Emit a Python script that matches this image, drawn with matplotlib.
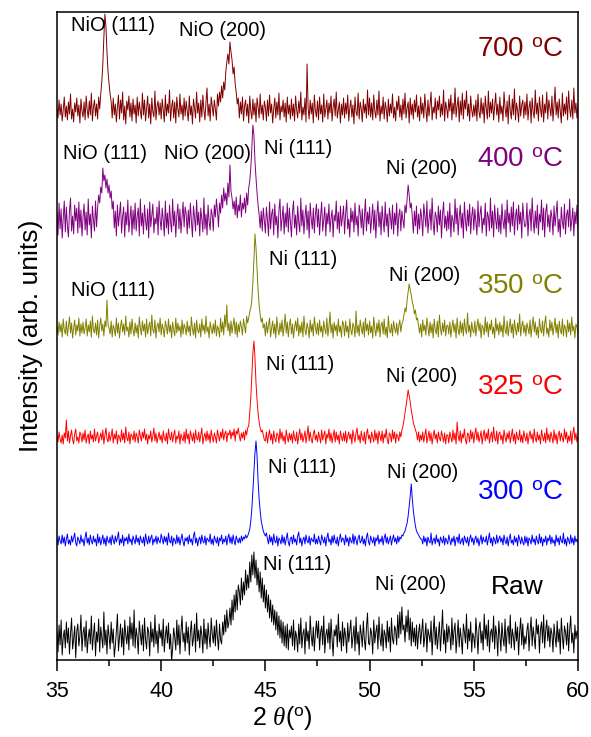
import matplotlib
matplotlib.use("Agg")
import matplotlib.pyplot as plt
import numpy as np

plt.rcParams['font.family'] = ['Liberation Sans', 'DejaVu Sans']
plt.rcParams['mathtext.fontset'] = 'custom'
plt.rcParams['mathtext.rm'] = 'Liberation Sans'
plt.rcParams['mathtext.it'] = 'Liberation Serif:italic'

# 2theta grid: 35.00 .. 60.00 step 0.05 (501 points), 25 values per line
raw = [
    8, -12, 15, -5, 20, -15, 3, 10, -8, 18, -3, 12, -14, 6, 22, -9, 1, 14, -18, 9, 16, -6, 4, 25, -11,
    7, 13, -7, 19, -13, 2, 11, -4, 24, -10, 5, 17, -16, 8, -2, 21, -12, 13, 3, -8, 28, -5, 10, -14, 15,
    4, -9, 18, -3, 11, -17, -6, 9, 26, -11, 2, 16, -7, 12, -15, 20, 5, -4, 14, -10, 23, 1, 17, -6, 30,
    -8, 12, 3, -14, 19, 6, -5, 15, -11, 22, 0, -9, 13, 8, -16, 18, -2, 11, -7, 25, -4, 9, -13, 16, 2,
    10, -6, 21, -12, 4, 14, -3, 17, -9, 6, -22, -8, 12, 3, -10, 20, -5, 15, -14, 9, 24, -2, 7, -11, 18,
    -3, 13, -15, 8, 19, -6, 2, 16, -12, 27, -1, 10, -8, 14, 5, -13, 21, -4, 11, -9, 17, 3, -7, 22, 6,
    -3, 14, -6, 20, 2, -10, 16, 0, -4, 18, 5, 25, 8, 30, 12, 18, 32, 15, 40, 20, 45, 28, 50, 30, 55,
    48, 35, 62, 40, 58, 45, 70, 50, 65, 52, 78, 58, 85, 65, 88, 62, 80, 55, 72, 48, 68, 42, 62, 38, 55,
    32, 50, 28, 45, 22, 40, 18, 35, 15, 30, 10, 28, 5, 24, 2, 20, -3, 18, -6, 14, -8, 16, -10, 10, 2,
    14, -6, 20, -10, 9, 3, -12, 16, -4, 22, -8, 6, 11, -14, 18, -1, 9, -9, 24, 4, -6, 13, -11, 7, 19,
    2, 19, -10, 8, 14, -5, 24, -13, 5, 11, -3, 17, -9, 21, 1, -16, 10, 4, 15, -7, 26, -2, 9, -11, 18,
    -6, 12, 4, -13, 17, -2, 9, 20, -8, 3, 14, -11, 23, -4, 8, -15, 15, 6, -7, 19, 0, -10, 13, 27, -3,
    -5, 12, 6, -14, 20, -3, 8, 15, -9, 23, 2, -6, 16, -11, 10, 5, -8, 19, -2, 13, -12, 22, 1, -4, 14,
    10, -5, 25, 2, 28, 6, 33, 10, 15, -2, 24, 8, 30, 0, 22, -6, 18, -2, 12, -6, 15, -9, 7, 16, -4,
    9, 21, -7, 3, 17, -12, 11, 5, -2, 19, -15, 7, 24, -5, 13, -9, 4, 18, -11, 8, 30, -4, 10, -13, 16,
    -2, 14, 6, -10, 22, -5, 9, 17, -13, 4, 20, -7, 12, 1, -14, 16, 8, -3, 26, -9, 11, -1, 18, -12, 7,
    3, -8, 22, 6, -14, 12, 18, -3, 9, -10, 26, 1, 15, -6, 20, -12, 7, 11, -2, 24, -9, 14, 5, -16, 19,
    5, -11, 17, 2, -6, 21, -13, 9, 14, -4, 25, -8, 11, 3, -10, 18, -1, 13, -15, 8, 22, -5, 16, -9, 4,
    -4, 10, 17, -11, 8, 23, -6, 13, 2, -9, 21, 6, 15, -13, 11, 18, -3, 25, -8, 9, 20, -1, 14, -7, 12,
    6, -12, 16, 3, -7, 19, -2, 11, -14, 22, 4, -9, 14, 8, -5, 17, -11, 10, 24, -3, 7, -13, 15, 1, 9,
    5]

t300 = [
    3, -4, 5, 0, -3, 6, -2, 4, -5, 2, 7, -3, 1, -4, 5, -1, 3, 8, -2, -5, 4, 1, -3, 6, -1,
    2, -5, 4, 9, -2, 3, -4, 6, 0, -3, 5, -1, 2, -5, 7, -2, 4, -4, 1, 6, -3, 3, -5, 5, 0,
    -2, 4, -4, 6, 1, -3, 5, -1, 3, 9, -4, 2, -2, 6, -5, 3, 0, 4, -3, 7, -1, 2, -4, 5, 1,
    -3, 6, -1, 3, -4, 5, 0, -2, 4, -5, 7, 1, -3, 5, -2, 3, 6, -4, 2, -1, 5, -3, 4, 0, -2,
    7, 2, -3, 5, -1, 4, -4, 8, 0, -2, 5, -5, 3, 1, -3, 6, -2, 4, -4, 2, 7, -1, -5, 3, 0,
    4, -3, 6, -1, 2, -4, 5, 9, -2, 3, -5, 1, 4, -3, 6, 0, -2, 5, -4, 3, 1, -1, 7, -3, 2,
    -4, 5, 1, -2, 4, -5, 3, 0, 6, -3, 2, -1, 5, -4, 3, 7, -2, 4, -3, 6, 0, -4, 5, 1, -2,
    3, -2, 5, 0, 4, 2, 6, 3, 5, 8, 12, 20, 32, 50, 70, 88, 100, 85, 60, 42, 30, 20, 15, 10, 7,
    5, 8, 2, -3, 6, -1, 4, -4, 7, 0, -2, 5, -5, 3, 1, -3, 6, -2, 4, -4, 2, 8, -1, -5, 3,
    4, -3, 6, -1, 2, -4, 5, 9, -2, 3, -5, 1, 4, -3, 6, 0, -2, 5, -4, 3, 1, -1, 7, -3, 2,
    -3, 5, 0, -4, 6, 2, -2, 4, -5, 3, 8, -1, 2, -4, 5, -2, 6, 0, -3, 4, -5, 2, 7, -1, 3,
    2, -4, 6, -1, 3, -5, 4, 0, -2, 7, -3, 5, 1, -4, 3, 6, -2, 0, 5, -3, 2, -5, 4, 8, -1,
    -4, 5, 1, -2, 4, -5, 3, 0, 6, -3, 2, -1, 5, -4, 3, 7, -2, 4, -3, 1, 5, -4, 2, 6, -1,
    3, -3, 5, -1, 4, 2, 6, 5, 8, 10, 14, 18, 25, 35, 45, 57, 42, 30, 22, 15, 10, 8, 6, 4, 2,
    2, -3, 5, -1, 3, -5, 4, 0, -2, 8, -4, 1, 3, -3, 6, -1, 2, -5, 4, 1, -2, 5, -4, 3, 0,
    -3, 6, 1, -4, 3, -1, 5, -5, 2, 4, -2, 7, -3, 0, 3, -4, 5, 1, -2, 4, -5, 2, 6, -1, 3,
    -4, 2, 5, -2, 3, -5, 1, 6, -3, 4, 0, -1, 5, -4, 2, 8, -2, 3, -5, 4, 1, -3, 6, -2, 2,
    5, -1, 3, -4, 6, 0, -3, 4, -5, 2, 7, -2, 1, -4, 5, -1, 3, -5, 6, 2, -3, 4, -1, -4, 5,
    -2, 4, -5, 3, 1, -3, 6, -1, 2, -4, 5, 0, -3, 7, -2, 4, -5, 2, -1, 5, -4, 3, 0, 6, -3,
    4, -2, 1, -5, 6, -1, 3, -4, 5, 0, -2, 8, -3, 2, -5, 4, 1, -3, 6, -2, 3, -4, 5, -1, 2,
    -1]

t325 = [
    2, -4, 6, -1, -5, 3, -6, 5, 0, 18, -3, 7, -5, 2, 8, -2, -6, 4, 9, -3, 1, -5, 6, 3, -4,
    5, -2, 8, -5, 1, 4, -6, 7, -1, 3, -4, 9, -3, 2, 6, -5, 0, 5, -2, 8, -6, 3, 10, -1, -4,
    6, -3, 2, 9, -5, 4, -1, 7, -6, 3, 1, -4, 8, -2, 5, -5, 11, 0, -3, 6, -6, 4, 2, -2, 7,
    -4, 5, 1, -5, 8, 2, -3, 6, 0, 9, -2, 4, -6, 3, -1, 7, -4, 2, 10, -3, 5, -5, 1, 6, -2,
    3, -5, 7, 0, -3, 5, -6, 9, 1, -2, 6, -4, 3, 8, -5, 2, -1, 7, -6, 4, 0, -3, 6, -5, 9,
    -1, 4, -6, 7, 2, -3, 5, -5, 8, 0, -2, 6, -4, 3, 10, -6, 1, 5, -3, 7, -2, 4, -5, 8, 1,
    -4, 5, 1, -5, 8, 2, -3, 6, 0, 9, -2, 4, 7, -4, 5, 3, 8, -1, 6, 2, 9, -3, 7, 4, 10,
    2, -3, 5, 0, 6, -2, 8, 3, 10, 12, 25, 40, 62, 85, 97, 80, 55, 38, 25, 16, 10, 6, 8, 3, -2,
    -3, 6, -5, 2, 8, -2, 4, -6, 7, 0, -4, 5, 3, -5, 9, -1, 6, -3, 2, -6, 8, 1, -4, 5, -2,
    4, -5, 7, 0, -3, 6, -6, 2, 9, -2, 5, -4, 1, 7, -5, 3, 12, -3, 6, -1, -5, 4, 8, -2, 3,
    -4, 6, 1, -5, 8, -2, 3, 7, -6, 4, 0, 9, -3, 5, -5, 2, 8, -4, 6, -2, 3, -6, 7, 1, -3,
    5, -3, 7, -5, 2, 6, -1, 4, -6, 8, 1, -4, 5, 10, -2, 3, -5, 7, 0, -3, 6, -6, 4, 9, -1,
    3, -5, 6, 1, -4, 8, -2, 5, -6, 7, 2, -3, 7, -5, 4, 0, 9, -2, -6, 5, 3, -4, 8, -1, 6,
    -5, 4, 2, -3, 6, 1, 8, 12, 18, 25, 32, 40, 48, 42, 36, 28, 22, 15, 12, 8, 5, -2, 6, -4, 3,
    -2, 6, -4, 3, 9, -5, 1, 7, -3, 5, -6, 2, 8, -1, 4, -5, 6, 0, -3, 7, 2, -4, 5, -6, 3,
    3, -5, 6, 1, -4, 8, -2, 5, -6, 16, 2, -3, 7, -5, 4, 0, 9, -2, -6, 5, 3, -4, 8, -1, 6,
    -5, 4, 10, -2, 6, -4, 1, 7, -6, 3, 8, -3, 5, -1, 9, -5, 2, 6, -4, 11, 0, -3, 7, -6, 4,
    6, -2, 3, -6, 8, 1, -4, 5, -1, 7, -5, 2, 9, -3, 4, -6, 6, 0, -2, 8, -4, 3, -5, 7, 1,
    -3, 5, -6, 2, 7, -1, 4, -5, 9, 0, -4, 6, -2, 3, -6, 8, 1, -3, 5, -5, 10, -2, 4, -4, 6,
    1, -5, 8, -2, 4, -6, 3, 7, -3, 5, 0, -4, 9, -1, 6, -5, 2, -3, 7, -6, 4, 11, -2, 5, -4,
    2]

t350 = [
    3, -5, 8, -2, 6, -7, 11, 0, -4, 9, -6, 4, 13, -3, 7, -8, 2, 10, -5, 5, -1, 12, -6, 6, -3,
    8, -4, 2, 11, -6, 5, -2, 9, -7, 14, 0, -3, 7, -5, 10, -8, 4, 12, -1, 6, -6, 9, 3, 30, 5,
    2, -4, 9, -7, 5, 1, -6, 12, -3, 7, -8, 4, 10, -2, 6, -5, 14, -1, 3, -7, 8, -4, 11, 0, -6,
    7, -3, 5, -8, 13, 2, -5, 9, -1, 6, -7, 11, -4, 3, 8, -6, 15, 0, -3, 10, -8, 4, 7, -2, 12,
    -5, 6, 1, -7, 9, 3, -4, 11, -2, 5, -8, 8, 0, -6, 12, -3, 7, -1, 4, -7, 10, -4, 6, 2, -5,
    9, -2, 4, -6, 13, 1, -5, 7, -8, 10, 0, -3, 6, -7, 11, -1, 5, -4, 14, -2, 3, -8, 8, 1, -4,
    6, -3, 10, -6, 4, 1, -7, 12, -2, 8, -5, 15, 3, 25, -1, 7, -6, 9, -3, 5, 12, -4, 8, -7, 6,
    -2, 9, 3, -5, 11, 4, -3, 14, 7, 12, 18, 22, 30, 48, 70, 96, 82, 60, 40, 25, 15, 8, 12, 2, 6,
    -6, 8, -3, 5, 12, -7, 2, 9, -4, 6, -8, 13, 1, -5, 7, -2, 10, -6, 4, 16, -3, 8, -7, 5, 11,
    -4, 6, -8, 3, 9, -1, 12, -6, 5, -3, 8, -7, 14, 0, -5, 7, 2, -8, 10, -2, 6, -6, 13, 3, -4,
    7, -5, 10, -2, 4, -7, 9, 1, -4, 12, -6, 3, 18, -3, 6, -8, 8, -1, 5, -6, 11, -2, 4, -7, 9,
    6, -6, 9, -2, 4, -8, 11, 0, -5, 7, 3, -7, 19, -3, 5, -6, 10, 2, -4, 8, -7, 12, -1, 6, -5,
    9, -3, 4, -8, 13, 1, -6, 7, -2, 10, -7, 5, 8, -4, 11, -5, 3, -8, 14, 0, -3, 6, -6, 9, 2,
    -3, 7, -5, 4, 10, -2, 6, 9, 15, 22, 18, 30, 38, 46, 40, 35, 28, 24, 16, 20, 10, 12, 4, -3, 6,
    -7, 10, -1, 5, -5, 12, 3, -6, 8, -3, 6, -8, 11, 0, -4, 9, -7, 15, 2, -5, 7, -2, 10, -6, 4,
    5, -4, 8, -7, 3, 10, -2, 6, -8, 12, 0, -5, 9, -3, 7, -6, 11, 1, -4, 17, -2, 5, -7, 8, 0,
    -3, 9, -6, 4, 11, -1, 7, -8, 5, 2, -5, 13, -2, 8, -7, 6, 0, 10, -4, 3, -8, 12, -1, 6, -5,
    8, -2, 5, -7, 14, 0, -4, 9, -6, 3, 11, -3, 6, -8, 10, 1, -5, 7, -2, 16, -6, 4, 9, -3, 5,
    -6, 7, 2, -4, 10, -7, 5, 13, -2, 8, -5, 3, -8, 11, 1, -3, 9, -6, 6, 14, -4, 2, -7, 10, -1,
    8, -5, 3, 12, -3, 6, -8, 9, 0, -4, 11, -6, 5, 2, -7, 10, -2, 7, -5, 13, -1, 4, -8, 6, 3,
    -3]

t400 = [
    10, -12, 20, -6, 14, -15, 5, 22, -9, 16, -3, -14, 12, 25, -8, 7, -11, 18, 2, 15, -10, 21, -5, 13, -13,
    6, 19, -7, 11, -12, 24, -2, 9, -15, 17, 3, -8, 22, -4, 15, 28, 20, 36, 30, 55, 42, 48, 35, 44, 30,
    38, 25, 32, 14, 22, -5, 12, -13, 18, -3, 9, 21, -10, 6, 16, -14, 11, -2, 23, -9, 4, 17, -12, 13, -6,
    20, -8, 7, 15, -13, 24, -3, 10, -11, 18, 2, -7, 14, -15, 21, -4, 8, 19, -10, 5, -1, 16, -12, 22, 3,
    -7, 15, 3, -13, 22, -5, 10, -11, 18, 1, -9, 24, -3, 12, -14, 7, 19, -6, 14, -10, 5, 21, -4, 16, 9,
    -11, 13, -5, 20, 2, -14, 17, 6, -8, 23, -2, 11, -13, 15, 4, -9, 25, -6, 9, -12, 18, 1, -7, 14, 8,
    -8, 18, 6, 24, 12, -4, 20, 10, 28, 15, 35, 22, 30, 18, 40, 26, 58, 32, 25, 14, 22, 8, 26, 5, 18,
    12, 28, 6, 20, 14, 25, 10, 30, 18, 35, 42, 55, 75, 98, 88, 62, 45, 30, 18, 8, -5, 12, -8, 15, 3,
    -10, 16, 3, -13, 21, -6, 9, 14, -12, 19, -2, 7, -15, 13, 24, -8, 5, 17, -11, 10, -4, 20, -9, 15, 2,
    -14, 11, 22, -5, 8, -12, 17, 1, -9, 25, -3, 13, -11, 6, 18, -7, 12, -15, 20, 4, -6, 15, -10, 9, 19,
    -4, 14, -12, 7, 21, -8, 3, 16, -13, 10, -1, 19, -9, 5, 13, -14, 8, 2, 22, -6, 11, -10, 17, -3, 6,
    17, -11, 9, 23, -6, 4, -14, 15, 1, 12, -9, 20, -2, 7, -13, 18, 10, -5, 14, -12, 6, 24, -8, 11, -1,
    16, -10, 5, 19, -7, 13, -15, 8, 22, -4, 11, -12, 17, 2, -9, 21, -3, 9, -14, 15, 6, -6, 18, -11, 10,
    -2, 20, -13, 7, 14, -8, 12, 3, -5, 18, 10, 24, 38, 28, 15, 20, 6, -10, 12, -3, 17, -11, 9, -6, 14,
    5, -13, 19, 8, -4, 22, -10, 3, 14, -7, 25, 0, -12, 11, 6, -9, 17, -2, 13, -15, 9, 21, -5, 7, -8,
    12, -6, 20, -14, 8, 3, -9, 24, -1, 15, -12, 6, 18, -5, 10, -15, 21, 2, -8, 13, -3, 19, -11, 7, 16,
    -7, 14, 1, -12, 22, -4, 9, 17, -10, 5, -2, 20, -13, 11, 6, -8, 25, -5, 12, -14, 18, 3, -6, 15, -9,
    8, -11, 19, 2, -6, 13, -14, 23, 0, 10, -9, 16, -3, 21, -12, 7, 14, -7, 18, -1, 11, -15, 20, 4, -4,
    -2, 20, -13, 7, 14, -8, 25, 3, -10, 12, -5, 18, -12, 9, 1, 23, -7, 15, -14, 11, 19, -4, 8, -9, 13,
    6, -12, 17, -3, 10, 22, -9, 4, -14, 16, 1, -6, 19, -11, 8, 13, -4, 24, -8, 2, 15, -13, 11, -1, 18,
    -6]

t700 = [
    4, -6, 12, -3, 8, -9, 2, 15, -5, 6, -8, 10, -2, 18, -7, 3, -10, 9, 0, 14, -4, 7, -11, 13, 1,
    -5, 10, -8, 16, 2, -6, 11, -3, 19, -9, 5, 12, -4, 8, -7, 15, 3, 18, 30, 48, 75, 98, 85, 60, 40,
    28, 18, 10, -6, 14, -3, 8, -10, 5, 17, -7, 12, -1, 20, -8, 6, -12, 11, 2, 16, -5, 9, -9, 13, -2,
    7, -11, 15, -4, 10, 1, -7, 19, -3, 12, -9, 4, 16, -6, 8, -12, 14, 0, -5, 21, -8, 6, 11, -3, 9,
    -7, 13, 2, -10, 17, -4, 8, -1, 22, -9, 5, 12, -6, 10, -11, 15, 3, -5, 18, -2, 7, -8, 14, -4, 11,
    1, -9, 16, -3, 6, -12, 13, 4, -6, 20, -1, 9, -10, 12, -5, 17, 2, -8, 10, 24, -4, 8, -9, 15, 6,
    -4, 12, 3, -8, 18, 6, 20, 10, 26, 14, 30, 22, 40, 50, 58, 48, 70, 60, 52, 38, 45, 28, 20, 8, 14,
    -6, 10, -2, 15, -9, 6, 12, -4, 8, -11, 16, 1, -7, 13, -3, 9, -10, 14, 5, -6, 18, -2, 7, -8, 11,
    5, -9, 12, -4, 17, -1, 8, -11, 3, 14, -6, 10, -3, 19, -8, 6, 0, 12, -5, 9, -10, 15, -2, 7, -7,
    13, -4, 8, -9, 16, 2, -6, 11, -1, 20, -8, 5, -3, 14, -10, 48, 4, -7, 12, -2, 9, -11, 17, 1, -5,
    11, -8, 15, -2, 7, -10, 18, -5, 3, 12, -7, 9, -1, 16, -9, 5, 13, -4, 20, -6, 2, 10, -11, 8, -3,
    14, -6, 9, -2, 17, -9, 4, 12, -5, 7, -12, 15, 0, -4, 19, -7, 10, 3, -10, 13, -1, 8, -6, 22, -3,
    14, -5, 9, -8, 17, 1, -6, 12, -3, 21, -9, 6, -2, 15, -7, 10, 3, -10, 13, -4, 8, -1, 18, -6, 5,
    -9, 11, 2, 16, -5, 7, -8, 13, -2, 19, -6, 4, 10, -11, 14, -3, 8, -7, 12, 0, 17, -5, 6, -9, 15,
    -2, 9, -6, 18, 3, -10, 12, -4, 7, 20, -8, 5, -1, 14, -7, 11, 2, 16, -5, 8, -3, 22, -9, 10, 4,
    -6, 13, 1, 17, -8, 9, -2, 24, -5, 6, 15, -10, 11, -3, 19, -7, 12, 3, 21, -4, 8, -9, 16, 2, -5,
    7, -4, 12, -9, 18, 0, -6, 14, -2, 9, -11, 16, 3, -7, 21, -5, 10, -1, 13, -8, 6, 19, -3, 8, -10,
    15, -2, 6, -9, 20, 4, -5, 11, -12, 17, 1, -7, 13, -3, 23, -8, 9, 2, -10, 16, -4, 7, 12, -6, 10,
    -3, 18, -8, 5, 11, -11, 14, 0, -6, 22, -2, 9, -9, 15, 3, -5, 17, -10, 8, -1, 20, -7, 12, 4, -4,
    16, -9, 7, 25, -3, 10, -6, 13, 1, -11, 19, -4, 8, -2, 15, -8, 21, 3, -5, 12, -7, 24, -1, 9, -6,
    7]

patterns = [raw, t300, t325, t350, t400, t700]
names = ['Raw', '300 $^{\\rm o}$C', '325 $^{\\rm o}$C', '350 $^{\\rm o}$C',
         '400 $^{\\rm o}$C', '700 $^{\\rm o}$C']
colors = ['black', '#0000ff', '#ff0000', '#808000', '#800080', '#800000']
offsets = [20, 119, 222, 330, 437, 548]

# peak labels: (text, 2theta, y)
peak_labels = [
    [('Ni (111)', 46.5, 95), ('Ni (200)', 51.95, 75)],
    [('Ni (111)', 46.75, 192), ('Ni (200)', 52.55, 187)],
    [('Ni (111)', 46.65, 295), ('Ni (200)', 52.5, 283)],
    [('NiO (111)', 37.7, 370), ('Ni (111)', 46.8, 401), ('Ni (200)', 52.65, 385)],
    [('NiO (111)', 37.3, 507), ('NiO (200)', 42.2, 507), ('Ni (111)', 46.55, 512),
     ('Ni (200)', 52.5, 492)],
    [('NiO (111)', 37.7, 635), ('NiO (200)', 42.95, 630)],
]
name_y = [73, 167, 272, 373, 500, 610]

fig = plt.figure(figsize=(5.91, 7.37), dpi=100)
ax = fig.add_axes([0.0964, 0.1045, 0.8816, 0.8792])

for vals, off, c in zip(patterns, offsets, colors):
    x = np.linspace(35, 60, len(vals))
    ax.plot(x, np.array(vals) + off, color=c, lw=0.7)

for labs in peak_labels:
    for txt, px, py in labs:
        ax.text(px, py, txt, fontsize=14.5, ha='center', va='center', color='black')

for i, (nm, c, ny) in enumerate(zip(names, colors, name_y)):
    if i == 0:
        ax.text(57.07, ny, nm, fontsize=19, ha='center', va='center', color=c)
    else:
        ax.text(59.3, ny, nm, fontsize=20, ha='right', va='center', color=c)

ax.set_xlim(35, 60)
ax.set_ylim(0, 648)
ax.set_yticks([])
ax.set_xticks([35, 40, 45, 50, 55, 60])
ax.set_xticks(np.arange(37.5, 60, 5), minor=True)
ax.tick_params(axis='x', which='major', direction='out', length=8, width=1.1,
               labelsize=15.5, pad=7)
ax.tick_params(axis='x', which='minor', direction='out', length=4.5, width=1.1)
for s in ax.spines.values():
    s.set_linewidth(1.1)

ax.set_xlabel('2 $\\mathit{\\theta}$($^{\\rm o}$)', fontsize=18, va='center')
ax.xaxis.set_label_coords(0.432, -0.09)
ax.set_ylabel('Intensity (arb. units)', fontsize=19, labelpad=10)

fig.savefig('out.png', dpi=100)
